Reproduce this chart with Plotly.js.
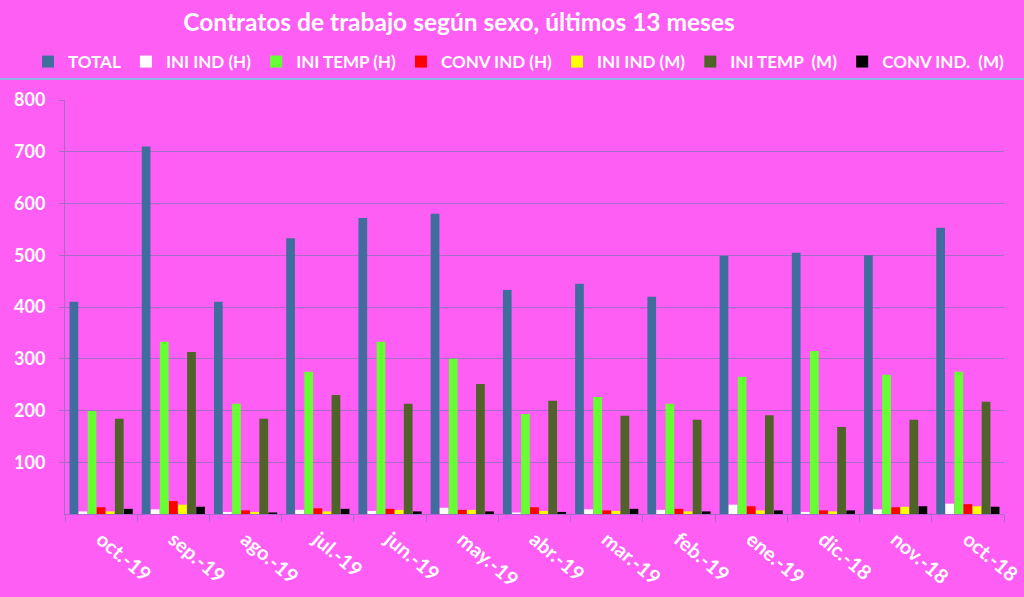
<!DOCTYPE html>
<html><head><meta charset="utf-8">
<script src="https://cdn.plot.ly/plotly-3.0.1.min.js"></script>
<style>html,body{margin:0;padding:0;background:#FF5EF5;}#chart{width:1024px;height:597px;}</style>
</head><body><div id="chart"></div>
<script>
const months = ["oct.-19","sep.-19","ago.-19","jul.-19","jun.-19","may.-19","abr.-19","mar.-19","feb.-19","ene.-19","dic.-18","nov.-18","oct.-18"];
const seriesNames = ["TOTAL","INI IND (H)","INI TEMP (H)","CONV IND (H)","INI IND (M)","INI TEMP  (M)","CONV IND.  (M)"];
const total     = [410,710,410,533,572,580,433,445,420,499,505,500,553];
const iniIndH   = [5,9,4,8,6,12,3,9,8,18,4,9,20];
const iniTempH  = [199,333,213,275,333,300,193,226,213,265,315,269,275];
const convIndH  = [13,25,7,11,10,8,13,7,10,15,7,13,19];
const iniIndM   = [5,18,4,5,8,8,6,6,5,7,5,14,15];
const iniTempM  = [184,313,184,230,213,251,219,190,182,191,168,182,217];
const convIndM  = [10,14,3,10,5,5,4,10,5,7,7,15,14];
const colors = ["#3F6E9E","#FFFFFF","#66FF33","#FF0000","#FFFF00","#4F6228","#000000"];
const values = [total,iniIndH,iniTempH,convIndH,iniIndM,iniTempM,convIndM];

const traces = values.map((v,i)=>({
  type:'bar', x:months, y:v, name:seriesNames[i],
  marker:{color:colors[i], line:{width:0}}
}));

const font = "Lato, 'Open Sans', sans-serif";
const layout = {
  width:1024, height:597,
  paper_bgcolor:'#FF5EF5', plot_bgcolor:'#FF5EF5',
  margin:{l:65,r:20,t:100,b:83},
  barmode:'group', bargap:0.12, bargroupgap:0.04,
  title:{text:'<b>Contratos de trabajo según sexo, últimos 13 meses</b>',
    font:{family:font,size:24.5,color:'#FFFFFF'},
    x:459/1024, xanchor:'center', y:1-22/597, yref:'container', yanchor:'middle'},
  showlegend:true,
  legend:{orientation:'h', x:(28-65)/939, xanchor:'left', y:(514-62)/414, yanchor:'middle',
    font:{family:font,size:17,color:'#FFFFFF',weight:'bold'}, bgcolor:'rgba(0,0,0,0)',
    itemwidth:30, tracegroupgap:0, traceorder:'normal'},
  xaxis:{type:'category', tickangle:40, showgrid:false, showline:true, linecolor:'#A86BC8', linewidth:1,
    ticks:'outside', tickson:'boundaries', ticklen:7, tickcolor:'#A86BC8', ticklabelstandoff:5,
    tickfont:{family:font,size:20,color:'#FFFFFF',weight:'bold'}, automargin:false},
  yaxis:{range:[0,800], tickvals:[100,200,300,400,500,600,700,800], showgrid:true, gridcolor:'#A86BC8', gridwidth:1,
    zeroline:true, zerolinecolor:'#A86BC8', showline:true, linecolor:'#A86BC8',
    tickfont:{family:font,size:18,color:'#FFFFFF',weight:'bold'}, ticks:'outside', ticklen:5, tickcolor:'#A86BC8',
    ticklabelstandoff:10, automargin:false},
  shapes:[{type:'line', xref:'paper', yref:'paper', x0:-65/939, x1:(1024-65)/939, y0:(514-79)/414, y1:(514-79)/414,
    line:{color:'#8DB4E2', width:2}}]
};
Plotly.newPlot('chart', traces, layout, {displayModeBar:false, staticPlot:true});
</script></body></html>
